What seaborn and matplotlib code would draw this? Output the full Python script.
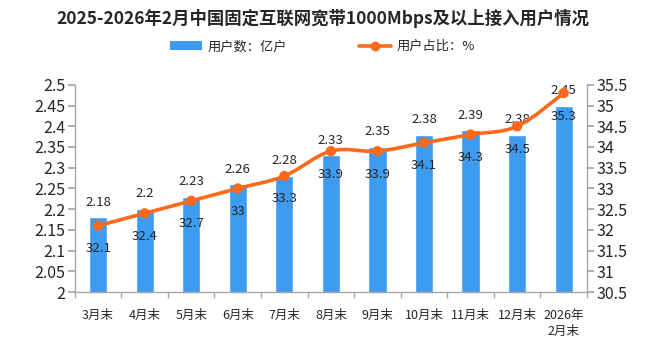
import numpy as np
import pandas as pd
import seaborn as sns
import matplotlib.pyplot as plt
from matplotlib.path import Path
from matplotlib.patches import PathPatch
from matplotlib.lines import Line2D
from matplotlib.patches import Patch
from matplotlib.ticker import FixedLocator, FuncFormatter

months = ["3月末", "4月末", "5月末", "6月末", "7月末", "8月末",
          "9月末", "10月末", "11月末", "12月末", "2026年\n2月末"]
users = [2.18, 2.20, 2.23, 2.26, 2.28, 2.33, 2.35, 2.38, 2.39, 2.38, 2.45]
share = [32.1, 32.4, 32.7, 33.0, 33.3, 33.9, 33.9, 34.1, 34.3, 34.5, 35.3]
left_ticks = [2, 2.05, 2.1, 2.15, 2.2, 2.25, 2.3, 2.35, 2.4, 2.45, 2.5]
right_ticks = [30.5, 31, 31.5, 32, 32.5, 33, 33.5, 34, 34.5, 35, 35.5]

sns.set_theme(style="white")
plt.rcParams["font.family"] = ["Noto Sans CJK SC", "DejaVu Sans"]

BLUE = "#3d9bf0"
ORANGE = "#fb6a1c"
AXIS = "#a6a6a6"
TXT = "#262626"

df = pd.DataFrame({"month": months, "users": users, "share": share})

fig = plt.figure(figsize=(6.45, 3.38), dpi=100)
ax = fig.add_axes([0.116, 0.136, 0.794, 0.613])

sns.barplot(data=df, x="month", y="users", color=BLUE, width=0.39,
            saturation=1, ax=ax)
ax.set_ylim(2, 2.5)
ax.set_xlim(-0.5, len(months) - 0.5)
ax.set_xlabel("")
ax.set_ylabel("")

fmt = lambda v, _: f"{v:g}"
ax.yaxis.set_major_locator(FixedLocator(left_ticks))
ax.yaxis.set_major_formatter(FuncFormatter(fmt))

ax2 = ax.twinx()
ax2.set_ylim(30.5, 35.5)
ax2.yaxis.set_major_locator(FixedLocator(right_ticks))
ax2.yaxis.set_major_formatter(FuncFormatter(fmt))

# smooth curve through the share points (cardinal spline as Bezier segments)
xs = np.arange(len(share), dtype=float)
ys = np.array(share, dtype=float)
t = 0.35
verts = [(xs[0], ys[0])]
codes = [Path.MOVETO]
for i in range(len(xs) - 1):
    p0 = np.array([xs[max(i - 1, 0)], ys[max(i - 1, 0)]])
    p1 = np.array([xs[i], ys[i]])
    p2 = np.array([xs[i + 1], ys[i + 1]])
    p3 = np.array([xs[min(i + 2, len(xs) - 1)], ys[min(i + 2, len(xs) - 1)]])
    c1 = p1 + (p2 - p0) * t / 2
    c2 = p2 - (p3 - p1) * t / 2
    verts += [tuple(c1), tuple(c2), tuple(p2)]
    codes += [Path.CURVE4] * 3
ax2.add_patch(PathPatch(Path(verts, codes), facecolor="none",
                        edgecolor=ORANGE, lw=2.6, zorder=3))
sns.scatterplot(data=df, x=np.arange(len(months)), y="share", ax=ax2,
                color=ORANGE, s=55, edgecolor="none", zorder=4, legend=False)
ax2.set_ylabel("")

# value labels
for i, v in enumerate(users):
    ax.annotate(f"{v:g}", (i, v), xytext=(0, 11), textcoords="offset points",
                ha="center", va="center", fontsize=9.5, color=TXT)
for i, v in enumerate(share):
    ax2.annotate(f"{v:g}", (i, v), xytext=(0, -16.5), textcoords="offset points",
                 ha="center", va="center", fontsize=9.5, color=TXT, zorder=5)

# axes styling
for a in (ax, ax2):
    for s in a.spines.values():
        s.set_color(AXIS)
        s.set_linewidth(1.0)
    a.spines["top"].set_visible(False)
ax.spines["right"].set_visible(False)
ax2.spines["left"].set_visible(False)
ax2.spines["bottom"].set_visible(False)

ax.tick_params(axis="y", which="major", left=True, length=5, color=AXIS,
               labelsize=11.5, labelcolor=TXT, pad=2)
ax2.tick_params(axis="y", which="major", right=True, length=5, color=AXIS,
                labelsize=11.5, labelcolor=TXT, pad=2)
ax.set_xticks(range(len(months)))
ax.set_xticklabels(months, fontsize=9, color=TXT, linespacing=1.3)
ax.tick_params(axis="x", which="major", bottom=False, pad=6)
ax.set_xticks(np.arange(-0.5, len(months), 1.0), minor=True)
ax.tick_params(axis="x", which="minor", bottom=True, length=4, color=AXIS)

fig.text(0.5, 0.945, "2025-2026年2月中国固定互联网宽带1000Mbps及以上接入用户情况",
         ha="center", va="center", fontsize=12.5, fontweight="bold", color=TXT)

handles = [Patch(facecolor=BLUE, edgecolor="none"),
           Line2D([0], [0], color=ORANGE, lw=2.6, marker="o", markersize=6)]
fig.legend(handles, ["用户数：亿户", "用户占比：%"], loc="center",
           bbox_to_anchor=(0.5, 0.862), ncol=2, frameon=False, fontsize=9.5,
           handlelength=2.4, handleheight=0.6, columnspacing=5.5,
           handletextpad=0.4, labelcolor=TXT)

fig.savefig("out.png", dpi=100, facecolor="white")
